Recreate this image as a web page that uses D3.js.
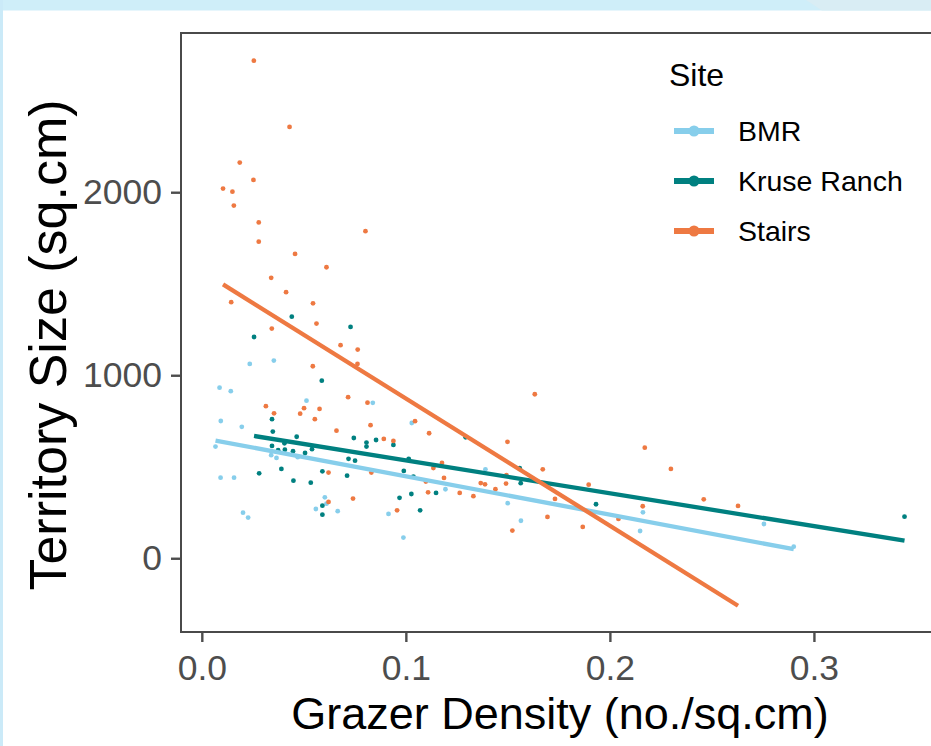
<!DOCTYPE html>
<html>
<head>
<meta charset="utf-8">
<script src="https://cdn.jsdelivr.net/npm/d3@7"></script>
<style>
  body { margin: 0; background: #ffffff; }
  svg text { font-family: "Liberation Sans", Arial, Helvetica, sans-serif; }
</style>
</head>
<body>
<div id="territory-vis"></div>
<script>
'use strict';

// sites, in legend order
var siteNames = ['BMR', 'Kruse Ranch', 'Stairs'];
var siteColours = ['#87CEEB', '#008080', '#EE7942'];

// grazer density (no./sq.cm) and territory size (sq.cm), one pair of lists per site
var bmrDensity = [0.0087, 0.0142, 0.0513, 0.0838, 0.0093, 0.0196, 0.0067, 0.0340, 0.0366, 0.0470,
  0.0092, 0.0158, 0.1029, 0.0603, 0.0611, 0.0559, 0.0666, 0.0202, 0.0227, 0.0915, 0.0988, 0.0235,
  0.0353, 0.1390, 0.1194, 0.1499, 0.1564, 0.2162, 0.2148, 0.2755, 0.2901];
var bmrSize = [932, 913, 861, 849, 750, 718, 610, 563, 548, 552,
  440, 440, 739, 333, 298, 269, 257, 249, 222, 242, 113, 1062,
  1080, 486, 377, 301, 205, 251, 149, 187, 63];

var kruseDensity = [0.0441, 0.0729, 0.0256, 0.0588, 0.0344, 0.0348, 0.0344, 0.0374, 0.0407, 0.0405,
  0.0465, 0.0447, 0.0506, 0.0540, 0.0745, 0.0807, 0.0807, 0.0854, 0.0939, 0.0719, 0.0751, 0.0281,
  0.0390, 0.0591, 0.0449, 0.0534, 0.0712, 0.1014, 0.0990, 0.1037, 0.0969, 0.1027, 0.0591, 0.0591,
  0.1070, 0.1293, 0.1558, 0.1563, 0.1148, 0.1932, 0.3444];
var kruseSize = [1320, 1264, 1209, 970, 760, 692, 614, 590, 593, 628,
  664, 585, 575, 596, 657, 632, 610, 646, 619, 543, 533, 464,
  488, 475, 424, 413, 451, 543, 477, 446, 330, 351, 287, 238,
  262, 661, 492, 410, 357, 295, 227];

var stairsDensity = [0.0255, 0.0430, 0.0186, 0.0253, 0.0104, 0.0150, 0.0157, 0.0279, 0.0802, 0.0279,
  0.0457, 0.0611, 0.0340, 0.0413, 0.0144, 0.0545, 0.0562, 0.0343, 0.0680, 0.0764, 0.0763, 0.0544,
  0.0717, 0.0812, 0.0314, 0.0354, 0.0482, 0.0501, 0.0577, 0.0554, 0.1045, 0.0827, 0.0660, 0.0892,
  0.0939, 0.1114, 0.0621, 0.0831, 0.0621, 0.0741, 0.0957, 0.1109, 0.1632, 0.1498, 0.2171, 0.1177,
  0.1135, 0.1671, 0.1187, 0.1098, 0.1367, 0.1388, 0.1491, 0.1439, 0.1896, 0.1264, 0.1331, 0.1731,
  0.1694, 0.1867, 0.1522, 0.2161, 0.2042, 0.2299, 0.2460, 0.2628, 0.1493];
var stairsSize = [2719, 2357, 2162, 2067, 2020, 2003, 1927, 1835, 1787, 1730,
  1663, 1590, 1532, 1454, 1399, 1393, 1282, 1255, 1164, 1140, 1062, 1049,
  880, 850, 831, 792, 790, 820, 816, 760, 749, 727, 697, 652,
  641, 683, 468, 468, 308, 326, 262, 360, 896, 636, 604, 521,
  493, 486, 439, 419, 411, 404, 408, 377, 402, 357, 339, 324,
  226, 171, 151, 284, 215, 488, 322, 286, 454];

// linear fits (size = intercept + slope * density)
var fitIntercept = [657, 714, 1569];
var fitSlope = [-2094, -1795, -6957];

var xTickValues = [0, 0.1, 0.2, 0.3];
var yTickValues = [0, 1000, 2000];
var xDomain = [-0.0102, 0.3613];
var yDomain = [-403, 2870];

class TerritoryPlot {

    constructor(width, height) {

        this.svgWidth = width;
        this.svgHeight = height;

        // panel edges; the right one runs off the page like in the slide
        this.panel = { left: 181, right: 939, top: 33, bottom: 632 };

        this.svg =
            d3.select('#territory-vis')
                .append('svg')
                .attr('width', width)
                .attr('height', height);

        this.x = d3.scaleLinear().domain(xDomain).range([this.panel.left, this.panel.right]);
        this.y = d3.scaleLinear().domain(yDomain).range([this.panel.bottom, this.panel.top]);
    }

    render() {
        this.renderFrame();
        this.renderPoints();
        this.renderFits();
        this.renderAxes();
        this.renderLegend();
    }

    renderFrame() {
        // light blue slide edge at the top and left
        this.svg.append('rect').attr('x', 0).attr('y', 0)
            .attr('width', this.svgWidth).attr('height', 10.5).attr('fill', '#cfeef9');
        this.svg.append('polygon')
            .attr('points', '806,0 931,0 931,10.5 822,10.5')
            .attr('fill', '#d9edf4');
        this.svg.append('rect').attr('x', 0).attr('y', 0)
            .attr('width', 3).attr('height', this.svgHeight).attr('fill', '#cbeaf8');
    }

    siteRows(i) {
        var dens = [bmrDensity, kruseDensity, stairsDensity][i];
        var size = [bmrSize, kruseSize, stairsSize][i];
        return dens.map(function (d, j) { return { density: d, size: size[j] }; });
    }

    renderPoints() {
        var x = this.x, y = this.y;
        for (var i = 0; i < siteNames.length; i++) {
            this.svg.append('g')
                .selectAll('circle')
                .data(this.siteRows(i))
                .join('circle')
                .attr('cx', function (d) { return x(d.density); })
                .attr('cy', function (d) { return y(d.size); })
                .attr('r', 2.4)
                .attr('fill', siteColours[i]);
        }
    }

    renderFits() {
        var x = this.x, y = this.y;
        var line = d3.line()
            .x(function (d) { return x(d[0]); })
            .y(function (d) { return y(d[1]); });

        for (var i = 0; i < siteNames.length; i++) {
            // fitted line spans the range of that site's densities
            var ext = d3.extent(this.siteRows(i), function (d) { return d.density; });
            var a = fitIntercept[i], b = fitSlope[i];
            var pts = ext.map(function (v) { return [v, a + b * v]; });
            this.svg.append('path')
                .attr('d', line(pts))
                .attr('fill', 'none')
                .attr('stroke', siteColours[i])
                .attr('stroke-width', 4.3);
        }
    }

    renderAxes() {
        var p = this.panel;

        var gx = this.svg.append('g')
            .attr('transform', 'translate(0,' + p.bottom + ')')
            .call(d3.axisBottom(this.x).tickValues(xTickValues)
                .tickFormat(d3.format('.1f')).tickSize(10).tickPadding(13));

        var gy = this.svg.append('g')
            .attr('transform', 'translate(' + p.left + ',0)')
            .call(d3.axisLeft(this.y).tickValues(yTickValues)
                .tickFormat(d3.format('d')).tickSize(10).tickPadding(9));

        [gx, gy].forEach(function (g) {
            g.select('.domain').remove();
            g.selectAll('line').attr('stroke', '#4d4d4d').attr('stroke-width', 2.4);
            g.selectAll('text')
                .attr('fill', '#4d4d4d')
                .style('font-size', '35.5px');
        });

        // panel border on top
        this.svg.append('rect')
            .attr('x', p.left).attr('y', p.top)
            .attr('width', p.right - p.left).attr('height', p.bottom - p.top)
            .attr('fill', 'none')
            .attr('stroke', '#4a4a4a')
            .attr('stroke-width', 2);

        this.svg.append('text')
            .attr('x', (p.left + p.right) / 2)
            .attr('y', 729)
            .attr('text-anchor', 'middle')
            .style('font-size', '45px')
            .attr('fill', '#000')
            .text('Grazer Density (no./sq.cm)');

        this.svg.append('text')
            .attr('transform', 'translate(66,345) rotate(-90)')
            .attr('text-anchor', 'middle')
            .style('font-size', '52px')
            .attr('fill', '#000')
            .text('Territory Size (sq.cm)');
    }

    renderLegend() {
        var legend = this.svg.append('g').attr('transform', 'translate(669,0)');

        legend.append('text')
            .attr('x', 0).attr('y', 86)
            .style('font-size', '32px')
            .text('Site');

        var rowY = [131, 181, 231];
        for (var i = 0; i < siteNames.length; i++) {
            var row = legend.append('g').attr('transform', 'translate(0,' + rowY[i] + ')');
            row.append('line')
                .attr('x1', 5).attr('x2', 45)
                .attr('stroke', siteColours[i]).attr('stroke-width', 6);
            row.append('circle')
                .attr('cx', 25).attr('r', 5.5)
                .attr('fill', siteColours[i]);
            row.append('text')
                .attr('x', 69).attr('y', 10)
                .style('font-size', '28.5px')
                .text(siteNames[i]);
        }
    }
}

var plot = new TerritoryPlot(931, 746);
plot.render();
</script>
</body>
</html>
